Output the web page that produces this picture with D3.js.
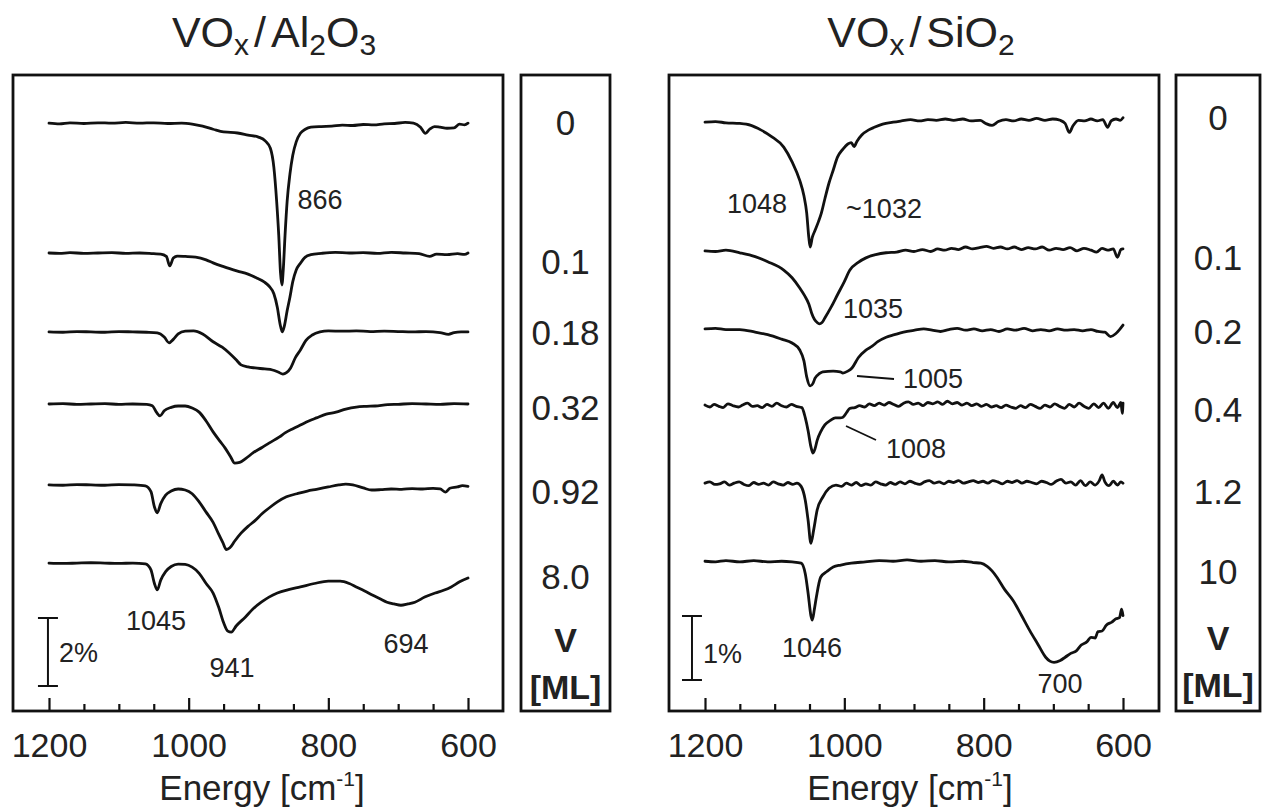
<!DOCTYPE html>
<html><head><meta charset="utf-8">
<script src="https://cdn.jsdelivr.net/npm/d3@7"></script>
<style>
body{margin:0;background:#fff}
svg{display:block}
text{font-family:"Liberation Sans",Arial,Helvetica,sans-serif;fill:#222}
</style>
</head><body>
<svg id="c" width="1262" height="810"></svg>
<script>
// ---------------- DATA (energy in cm^-1, dip depth in % below each trace's baseline) -------------
const energyDomain = [1200, 600];
const majorTicks = [1200, 1000, 800, 600];
const tickLabels = ["1200", "1000", "800", "600"];
const minorTicks = [1150, 1100, 1050, 950, 900, 850, 750, 700, 650];

// VOx / Al2O3
const loadingsAl = ["0", "0.1", "0.18", "0.32", "0.92", "8.0"];
const offsetsAl = [17.29, 13.47, 11.15, 9.03, 6.65, 4.35];   // baseline level of each trace, %
const al_0 = [[1200,0],[1185,0.02],[1170,-0.01],[1150,0.01],[1130,-0.01],[1110,0],[1090,-0.02],[1070,0],[1050,-0.01],[1030,0.01],[1010,0],[995,0.03],[980,0.09],[965,0.18],[950,0.26],[940,0.27],[930,0.29],[915,0.35],[900,0.41],[890,0.53],[883,0.74],[878,1.3],[874,2.3],[871,3.3],[868.5,4.4],[866.5,4.76],[864.5,4.3],[862,3.3],[859,2.3],[855,1.5],[851,0.95],[846,0.55],[840,0.3],[833,0.18],[825,0.12],[810,0.1],[795,0.09],[780,0.06],[765,0.07],[750,0.04],[735,0.05],[720,0.02],[705,0.01],[690,-0.02],[678,0],[668,0.12],[661,0.3],[655,0.18],[648,0.1],[640,0.12],[630,0.15],[620,0.14],[612,0.03],[605,0.05],[600,0]];
const al_01 = [[1200,0],[1185,0.01],[1170,-0.01],[1150,0.01],[1130,0],[1110,-0.01],[1090,0.01],[1070,0],[1050,0.02],[1040,0.03],[1032,0.1],[1027,0.38],[1022,0.15],[1016,0.09],[1005,0.1],[990,0.12],[975,0.2],[965,0.29],[950,0.4],[930,0.53],[915,0.62],[902,0.74],[892,0.85],[885,0.97],[878,1.2],[873,1.6],[869,2.1],[866,2.32],[863,2.15],[859,1.7],[855,1.3],[851,0.85],[846,0.5],[840,0.3],[833,0.12],[825,0.05],[810,0.01],[790,-0.02],[770,0],[750,-0.01],[730,0.01],[710,-0.02],[690,0],[670,0.02],[655,0.1],[645,0.03],[630,0.05],[615,0.02],[605,0.04],[600,0]];
const al_018 = [[1200,0],[1180,0.01],[1160,-0.01],[1140,0],[1120,0.01],[1100,-0.01],[1080,0],[1060,0.01],[1045,0.03],[1035,0.15],[1028,0.32],[1022,0.22],[1015,0.06],[1005,-0.02],[993,-0.03],[980,0.06],[965,0.29],[952,0.45],[942,0.62],[932,0.82],[925,0.97],[915,1.03],[905,1.06],[891,1.09],[880,1.12],[872,1.18],[865,1.24],[860,1.2],[854,1.06],[847,0.75],[840,0.53],[832,0.25],[823,0.09],[812,0],[800,-0.03],[780,-0.02],[760,-0.03],[740,-0.01],[720,-0.02],[700,-0.01],[680,0],[660,-0.01],[640,0.02],[628,0.07],[620,0.02],[610,0],[600,0]];
const al_032 = [[1200,0],[1180,-0.01],[1160,0.01],[1140,0],[1120,-0.01],[1100,0.01],[1080,0],[1060,0.01],[1052,0.05],[1046,0.25],[1041,0.35],[1035,0.2],[1025,0.1],[1015,0.06],[1005,0.06],[995,0.12],[985,0.24],[975,0.5],[965,0.82],[955,1.1],[948,1.29],[940,1.55],[934,1.74],[927,1.72],[918,1.6],[908,1.44],[895,1.28],[885,1.15],[870,0.97],[862,0.85],[850,0.72],[840,0.62],[828,0.5],[817,0.41],[803,0.3],[789,0.24],[775,0.15],[760,0.09],[745,0.07],[733,0.06],[715,0.02],[700,0.01],[680,-0.01],[660,0],[640,0.01],[620,-0.01],[600,0]];
const al_092 = [[1200,0],[1180,0.01],[1160,-0.01],[1140,0],[1120,0.01],[1100,-0.01],[1080,0],[1062,0.03],[1054,0.2],[1049,0.65],[1045,0.82],[1040,0.55],[1033,0.3],[1025,0.18],[1015,0.12],[1005,0.15],[995,0.26],[985,0.5],[975,0.8],[965,1.1],[957,1.45],[951,1.7],[946,1.9],[941,1.85],[934,1.65],[925,1.42],[915,1.22],[905,1.05],[895,0.85],[883,0.65],[873,0.5],[860,0.35],[845,0.26],[830,0.18],[817,0.13],[800,0.06],[785,0],[775,-0.02],[765,0],[750,0.09],[738,0.15],[725,0.14],[710,0.12],[695,0.13],[680,0.11],[665,0.12],[650,0.1],[640,0.12],[632,0.21],[626,0.1],[615,0.06],[608,0.02],[600,0.04]];
const al_80 = [[1200,0],[1180,0.01],[1160,0],[1140,-0.01],[1120,0],[1100,0.01],[1080,0],[1062,0.02],[1054,0.2],[1049,0.6],[1045,0.79],[1040,0.5],[1033,0.25],[1025,0.1],[1015,0.03],[1005,0.04],[995,0.12],[985,0.3],[975,0.6],[965,0.88],[957,1.3],[950,1.75],[944,2.0],[939,2.03],[932,1.85],[919,1.59],[908,1.35],[896,1.15],[885,1.0],[873,0.88],[857,0.78],[840,0.7],[820,0.6],[800,0.53],[783,0.53],[770,0.6],[760,0.7],[748,0.82],[737,0.94],[726,1.05],[716,1.15],[706,1.2],[696,1.24],[686,1.2],[676,1.15],[662,1.0],[647,0.88],[635,0.8],[624,0.7],[612,0.55],[600,0.44]];
const seriesAl = [al_0, al_01, al_018, al_032, al_092, al_80];
const peakLabelsAl = ["866", "1045", "941", "694"];
const scaleBarAl = "2%";

// VOx / SiO2
const loadingsSi = ["0", "0.1", "0.2", "0.4", "1.2", "10"];
const offsetsSi = [9.2, 7.19, 5.97, 4.78, 3.56, 2.34];
const si_0 = [[1200,0],[1185,-0.01],[1170,0.01],[1150,0.02],[1134,0.05],[1120,0.12],[1105,0.22],[1087,0.39],[1075,0.62],[1064,0.91],[1058,1.15],[1054,1.42],[1051,1.8],[1049,1.95],[1046,1.8],[1042,1.69],[1037,1.55],[1033,1.42],[1028,1.2],[1022,0.95],[1016,0.75],[1010,0.55],[1002,0.42],[995,0.34],[990,0.32],[986,0.38],[982,0.3],[975,0.2],[965,0.12],[957,0.08],[945,0.03],[930,0],[918,-0.02],[905,-0.04],[892,-0.02],[880,-0.04],[868,-0.03],[855,-0.05],[843,-0.03],[830,-0.05],[818,-0.02],[805,-0.03],[797,0.02],[788,0.05],[779,-0.01],[768,-0.04],[757,-0.02],[746,-0.05],[735,-0.03],[724,-0.06],[712,-0.03],[701,-0.05],[690,-0.03],[683,0.02],[677,0.16],[672,0.06],[664,-0.03],[655,-0.02],[646,-0.05],[637,-0.02],[629,-0.04],[622,0.08],[617,-0.02],[610,-0.05],[604,-0.03],[600,-0.07]];
const si_01 = [[1200,0],[1185,0.01],[1170,-0.01],[1150,0.03],[1128,0.09],[1110,0.17],[1087,0.3],[1075,0.42],[1064,0.58],[1057,0.7],[1051,0.83],[1047,0.97],[1043,1.07],[1039,1.12],[1036,1.14],[1032,1.12],[1028,1.05],[1019,0.88],[1010,0.69],[1000,0.48],[992,0.3],[980,0.18],[969,0.11],[955,0.06],[940,0.03],[925,0.02],[912,-0.01],[900,0.01],[888,-0.02],[876,0.01],[866,-0.03],[856,-0.01],[846,-0.04],[836,-0.02],[826,-0.06],[816,-0.03],[806,-0.05],[796,-0.07],[786,-0.04],[776,-0.06],[766,-0.03],[756,-0.06],[746,-0.02],[736,-0.05],[726,-0.03],[716,-0.06],[706,-0.01],[696,-0.04],[686,-0.02],[676,-0.05],[666,0],[656,-0.04],[646,-0.01],[638,0.02],[630,-0.04],[622,-0.01],[614,-0.03],[608,0.1],[603,-0.02],[600,-0.03]];
const si_02 = [[1200,0],[1185,-0.01],[1170,0.01],[1150,0.01],[1128,0.05],[1110,0.09],[1090,0.16],[1075,0.22],[1064,0.33],[1058,0.5],[1054,0.75],[1049,0.89],[1045,0.85],[1042,0.77],[1036,0.7],[1031,0.67],[1016,0.66],[1006,0.67],[1002,0.69],[995,0.66],[989,0.61],[980,0.45],[969,0.33],[960,0.27],[952,0.2],[940,0.13],[928,0.09],[915,0.05],[899,0.02],[886,0],[874,0.02],[862,0.04],[850,0.01],[838,-0.01],[826,0.02],[814,0],[802,0.03],[790,0.01],[778,0.04],[766,0],[754,0.02],[742,-0.01],[730,0.03],[718,0.01],[706,0.03],[694,0],[682,0.02],[670,0.01],[658,0.03],[646,0.01],[636,0.04],[626,0.05],[618,0.12],[611,0.08],[605,0.01],[600,-0.06]];
const si_04 = [[1200,0],[1193,0.03],[1187,-0.01],[1180,0.02],[1174,0.04],[1167,-0.02],[1160,0.01],[1152,0.03],[1146,0],[1139,-0.03],[1132,0.02],[1125,0.01],[1118,0.04],[1111,-0.01],[1104,0.02],[1097,-0.03],[1090,0.01],[1083,0.03],[1076,-0.01],[1069,0.02],[1061,0.04],[1056,0.2],[1052,0.4],[1048,0.65],[1045,0.75],[1042,0.68],[1039,0.55],[1034,0.42],[1028,0.31],[1020,0.24],[1013,0.2],[1006,0.2],[1002,0.19],[997,0.12],[992,0.05],[985,0.04],[978,0.01],[971,0.03],[964,-0.02],[957,0.01],[950,-0.03],[943,0],[936,-0.04],[929,-0.01],[922,0.02],[915,-0.03],[908,-0.05],[901,-0.01],[894,-0.03],[887,0.01],[880,-0.04],[873,-0.02],[866,-0.05],[859,-0.01],[852,-0.06],[845,-0.02],[838,-0.04],[831,0],[824,-0.03],[817,0.01],[810,-0.02],[803,0.02],[796,-0.01],[789,0.03],[782,0.01],[775,0.04],[768,0],[761,0.03],[754,0.05],[747,0.01],[740,0.04],[733,-0.01],[726,0.02],[719,0.05],[712,0],[705,0.03],[698,-0.02],[691,0.02],[684,0.05],[677,-0.01],[670,0.03],[663,-0.03],[656,0.02],[649,0.05],[642,-0.02],[635,0.04],[628,-0.03],[621,0.05],[614,-0.04],[608,0.04],[603,-0.04],[601,0.13],[600,-0.03]];
const si_12 = [[1200,0],[1193,-0.02],[1186,0.02],[1179,0.01],[1172,-0.02],[1165,0.03],[1158,0],[1151,-0.02],[1144,0.02],[1137,0.04],[1130,-0.01],[1123,0.02],[1116,0],[1109,0.03],[1102,-0.02],[1095,0.01],[1088,0.03],[1081,-0.01],[1074,0.02],[1068,0],[1062,0.05],[1056,0.27],[1052,0.58],[1048,0.94],[1044,0.73],[1039,0.42],[1031,0.22],[1022,0.08],[1012,0.03],[1004,0.05],[997,0],[990,0.03],[983,-0.01],[976,0.04],[969,0.01],[962,0.03],[955,-0.02],[948,0.01],[941,0.03],[934,-0.01],[927,0.02],[920,-0.02],[913,0.01],[906,-0.03],[899,0],[892,0.02],[885,-0.02],[878,-0.04],[871,0],[864,-0.02],[857,0.01],[850,-0.03],[843,-0.01],[836,-0.04],[829,0],[822,-0.02],[815,-0.04],[808,-0.01],[801,-0.03],[794,0],[787,-0.04],[780,-0.02],[773,0.01],[766,-0.03],[759,-0.01],[752,-0.04],[745,0],[738,-0.03],[731,-0.01],[724,0.01],[717,-0.03],[710,-0.01],[703,0.02],[696,-0.03],[689,-0.06],[682,0],[675,-0.02],[668,0.03],[661,-0.04],[654,0.04],[647,-0.02],[640,0.03],[634,-0.04],[630,-0.13],[626,-0.02],[620,0.04],[614,-0.03],[608,0.03],[603,-0.02],[600,0]];
const si_10 = [[1200,0],[1185,0.01],[1170,-0.01],[1150,0.01],[1130,-0.01],[1110,0.01],[1090,0],[1075,0.01],[1062,0.03],[1056,0.2],[1052,0.5],[1048,0.85],[1046,0.92],[1043,0.75],[1040,0.55],[1034,0.25],[1025,0.16],[1016,0.09],[1005,0.06],[990,0.03],[970,0.01],[950,-0.01],[930,0],[910,-0.02],[890,0],[870,-0.01],[850,0.01],[830,0],[815,0.02],[804,0.03],[795,0.08],[788,0.15],[781,0.25],[770,0.44],[758,0.61],[746,0.84],[734,1.08],[722,1.3],[711,1.5],[705,1.56],[699,1.58],[690,1.55],[683,1.5],[675,1.44],[667,1.4],[660,1.31],[652,1.26],[646,1.19],[640,1.2],[636,1.1],[630,1.09],[624,1.0],[616,0.95],[610,0.9],[605,0.88],[602,0.75],[600,0.85]];
const seriesSi = [si_0, si_01, si_02, si_04, si_12, si_10];
const peakLabelsSi = ["1048", "~1032", "1035", "1005", "1008", "1046", "700"];
const scaleBarSi = "1%";

// ---------------- DRAWING -------------
const svg = d3.select("#c");
const boxTop = 75, boxBottom = 711;
const FONT = '"Liberation Sans",Arial,Helvetica,sans-serif';

function drawTitle(cx, parts) {
  const t = svg.append("text").attr("x", cx).attr("y", 47).attr("text-anchor", "middle")
    .style("font-size", "43px");
  let shifted = false;
  parts.forEach(([s, sub, dx]) => {
    const ts = t.append("tspan").text(s);
    if (dx) ts.attr("dx", dx);
    if (sub) ts.style("font-size", "30px");
    if (sub && !shifted) { ts.attr("dy", 8); shifted = true; }
    else if (!sub && shifted) { ts.attr("dy", -8); shifted = false; }
  });
}

function panel(cfg) {
  const x = d3.scaleLinear().domain(energyDomain).range(cfg.xr);
  const y = d3.scaleLinear().domain([0, (boxBottom - boxTop) / cfg.pxPct]).range([boxBottom, boxTop]);
  const g = svg.append("g");

  // traces
  cfg.series.forEach((s, i) => {
    const off = cfg.offsets[i];
    const line = d3.line().x(d => x(d[0])).y(d => y(off - d[1])).curve(d3.curveMonotoneX);
    g.append("path").datum(s).attr("d", line)
      .attr("fill", "none").attr("stroke", "#111").attr("stroke-width", 2.8)
      .attr("stroke-linejoin", "round").attr("stroke-linecap", "round");
  });

  // box
  g.append("rect").attr("x", cfg.bx0).attr("y", boxTop).attr("width", cfg.bx1 - cfg.bx0)
    .attr("height", boxBottom - boxTop).attr("fill", "none").attr("stroke", "#111").attr("stroke-width", 2.8);

  // major ticks + labels
  const axMajor = d3.axisBottom(x).tickValues(majorTicks).tickSizeInner(-13).tickSizeOuter(0)
    .tickPadding(22).tickFormat((d, i) => tickLabels[i]);
  const ga = g.append("g").attr("transform", `translate(0,${boxBottom})`).call(axMajor);
  ga.select(".domain").remove();
  ga.selectAll("line").attr("stroke", "#111").attr("stroke-width", 2.2);
  ga.selectAll("text").attr("y", 46).attr("dy", null).style("font-size", "34px")
    .style("font-family", FONT).attr("fill", "#222");
  const axMinor = d3.axisBottom(x).tickValues(minorTicks).tickSizeInner(-7).tickSizeOuter(0).tickFormat("");
  const gm = g.append("g").attr("transform", `translate(0,${boxBottom})`).call(axMinor);
  gm.select(".domain").remove();
  gm.selectAll("line").attr("stroke", "#111").attr("stroke-width", 2.2);

  // axis title
  const at = g.append("text").attr("x", cfg.titleX).attr("y", 800).attr("text-anchor", "middle")
    .style("font-size", "35px");
  at.append("tspan").text("Energy [cm");
  at.append("tspan").text("-1").attr("dy", -14).style("font-size", "21px");
  at.append("tspan").text("]").attr("dy", 14);

  // scale bar
  const sx = x(cfg.sbE);
  const y0 = y(cfg.sbBase), y1 = y(cfg.sbBase + cfg.sbPct);
  g.append("line").attr("x1", sx).attr("x2", sx).attr("y1", y0).attr("y2", y1).attr("stroke", "#111").attr("stroke-width", 2);
  [y0, y1].forEach(yy => g.append("line").attr("x1", sx - 10).attr("x2", sx + 10).attr("y1", yy).attr("y2", yy)
    .attr("stroke", "#111").attr("stroke-width", 2));
  g.append("text").attr("x", sx + 11).attr("y", cfg.sbTextY).text(cfg.sbText).style("font-size", "27px");

  // peak labels
  cfg.peaks.forEach((p, i) => {
    const pos = cfg.peakPos[i];
    g.append("text").attr("x", pos[0]).attr("y", pos[1]).attr("text-anchor", "middle")
      .text(p).style("font-size", "27px");
  });
  (cfg.leaders || []).forEach(l => g.append("line").attr("x1", l[0]).attr("y1", l[1]).attr("x2", l[2]).attr("y2", l[3])
    .attr("stroke", "#111").attr("stroke-width", 1.8));

  // loading label box
  g.append("rect").attr("x", cfg.lx0).attr("y", boxTop).attr("width", cfg.lx1 - cfg.lx0)
    .attr("height", boxBottom - boxTop).attr("fill", "none").attr("stroke", "#111").attr("stroke-width", 2.8);
  const lc = (cfg.lx0 + cfg.lx1) / 2;
  cfg.loadings.forEach((s, i) => {
    g.append("text").attr("x", lc).attr("y", cfg.loadY[i]).attr("text-anchor", "middle")
      .text(s).style("font-size", "35px");
  });
  g.append("text").attr("x", lc).attr("y", cfg.vY).attr("text-anchor", "middle").text("V")
    .style("font-size", "34px").style("font-weight", "bold");
  g.append("text").attr("x", lc).attr("y", cfg.vY + 47).attr("text-anchor", "middle").text("[ML]")
    .style("font-size", "34px").style("font-weight", "bold");
}

drawTitle(274, [["VO"], ["x", true], ["/", false, 5], ["Al", false, 5], ["2", true], ["O"], ["3", true]]);
drawTitle(921, [["VO"], ["x", true], ["/", false, 5], ["SiO", false, 5], ["2", true]]);

panel({
  xr: [49, 468], bx0: 13, bx1: 503, lx0: 521, lx1: 610, pxPct: 34,
  series: seriesAl, offsets: offsetsAl, loadings: loadingsAl,
  loadY: [135, 274, 345, 420, 504, 589], vY: 652, titleX: 262,
  sbE: 1201.5, sbBase: 0.735, sbPct: 2, sbText: scaleBarAl, sbTextY: 662,
  peaks: peakLabelsAl, peakPos: [[320, 209], [156, 630], [232, 677], [406, 653]]
});
panel({
  xr: [705, 1123], bx0: 669, bx1: 1159, lx0: 1176, lx1: 1260, pxPct: 64,
  series: seriesSi, offsets: offsetsSi, loadings: loadingsSi,
  loadY: [130, 270, 344, 422, 504, 584], vY: 650, titleX: 910,
  sbE: 1218.7, sbBase: 0.484, sbPct: 1, sbText: scaleBarSi, sbTextY: 663,
  peaks: peakLabelsSi,
  peakPos: [[757, 213], [884, 218], [873, 318], [933, 388], [916, 458], [812, 657], [1060, 693]],
  leaders: [[857, 376, 894, 379], [846, 426, 876, 440]]
});
</script>
</body></html>
